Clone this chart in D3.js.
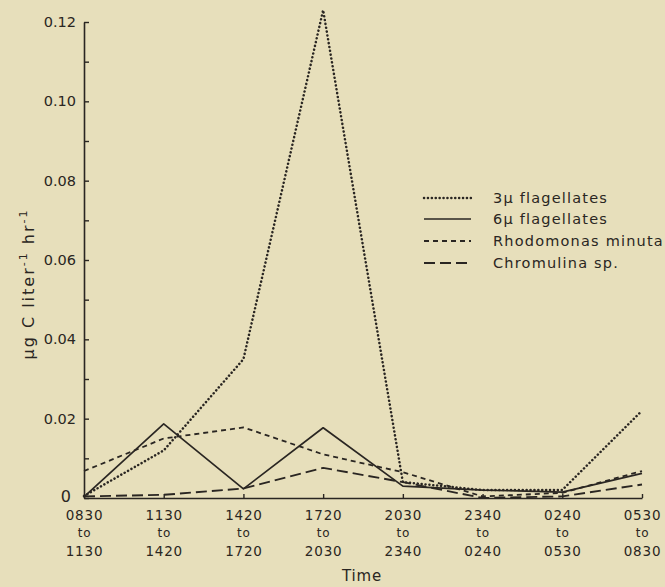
<!DOCTYPE html>
<html>
<head>
<meta charset="utf-8">
<script src="https://cdn.jsdelivr.net/npm/d3@7"></script>
<style>
  html, body { margin: 0; padding: 0; background: #e7dfbb; }
  svg { display: block; }
  text { font-family: "DejaVu Sans", sans-serif; fill: #2a2622; }
</style>
</head>
<body>
<svg id="chart" width="665" height="587"></svg>
<script>
// ---- data ----
const periodStart = ["0830","1130","1420","1720","2030","2340","0240","0530"];
const periodEnd   = ["1130","1420","1720","2030","2340","0240","0530","0830"];
const flag3  = [0.0005, 0.012, 0.035, 0.123, 0.004, 0.002, 0.002, 0.022];
const flag6  = [0.0003, 0.0187, 0.0023, 0.0177, 0.003, 0.002, 0.0015, 0.0062];
const rhodo  = [0.0068, 0.015, 0.0178, 0.011, 0.0065, 0.0004, 0.0013, 0.0068];
const chrom  = [0.0004, 0.0008, 0.0024, 0.0076, 0.004, 0.0, 0.0004, 0.0034];
const yTicks = [0, 0.02, 0.04, 0.06, 0.08, 0.10, 0.12];
const yMinor = [0.01, 0.03, 0.05, 0.07, 0.09, 0.11];
const seriesNames = ["3\u03bc flagellates", "6\u03bc flagellates", "Rhodomonas minuta", "Chromulina sp."];

const ink = "#2a2622";
const svg = d3.select("#chart");

const x = d3.scalePoint().domain(periodStart).range([84, 642]);
const y = d3.scaleLinear().domain([0, 0.12]).range([498, 22]);

const styles = [
  {dash: "0.1,3.8", width: 2.5, cap: "round"},
  {dash: null, width: 1.7, cap: "butt"},
  {dash: "5,4", width: 1.8, cap: "butt"},
  {dash: "11,5", width: 1.9, cap: "butt"}
];
const allSeries = [flag3, flag6, rhodo, chrom];

// ---- axes ----
const yAxis = d3.axisLeft(y).tickValues(yTicks)
  .tickFormat(d => d === 0 ? "" : d.toFixed(2))
  .tickSizeInner(-5).tickSizeOuter(0).tickPadding(8);
const gy = svg.append("g").attr("transform", "translate(84,0)").call(yAxis);
gy.select(".domain").attr("stroke", ink).attr("stroke-width", 1.6);
gy.selectAll(".tick line").attr("stroke", ink).attr("stroke-width", 1.4);
gy.selectAll(".tick text").attr("font-size", 14.5).attr("font-family", "DejaVu Sans").attr("fill", ink);

const yAxisMinor = d3.axisLeft(y).tickValues(yMinor).tickFormat("")
  .tickSizeInner(-5).tickSizeOuter(0);
const gym = svg.append("g").attr("transform", "translate(84,0)").call(yAxisMinor);
gym.select(".domain").remove();
gym.selectAll(".tick line").attr("stroke", ink).attr("stroke-width", 1.4);

// zero label offset low-left
svg.append("text").attr("x", 71).attr("y", y(0) + 4)
  .attr("text-anchor", "end").attr("font-size", 16).text("0");

const xAxis = d3.axisBottom(x).tickSizeInner(-4).tickSizeOuter(0).tickPadding(9)
  .tickFormat(() => "");
const gx = svg.append("g").attr("transform", `translate(0,${y(0)})`).call(xAxis);
gx.select(".domain").attr("stroke", ink).attr("stroke-width", 1.6);
gx.selectAll(".tick line").attr("stroke", ink).attr("stroke-width", 1.4);
gx.selectAll(".tick text").remove();
gx.selectAll(".tick").each(function(d, i) {
  const t = d3.select(this).append("text")
    .attr("text-anchor", "middle").attr("font-size", 13.5).attr("fill", ink)
    .attr("letter-spacing", 0.8);
  t.append("tspan").attr("x", 0).attr("y", 22).text(periodStart[i]);
  t.append("tspan").attr("x", 0).attr("y", 39).attr("font-size", 12).text("to");
  t.append("tspan").attr("x", 0).attr("y", 58).text(periodEnd[i]);
});

svg.append("text").attr("x", 362).attr("y", 581).attr("text-anchor", "middle")
  .attr("font-size", 15).attr("letter-spacing", 0.8).text("Time");

// y label
const yl = svg.append("text").attr("transform", "translate(34,284) rotate(-90)")
  .attr("text-anchor", "middle").attr("font-size", 16).attr("letter-spacing", 2);
yl.append("tspan").text("\u03bcg C liter");
yl.append("tspan").attr("dy", -7).attr("font-size", 11).text("-1");
yl.append("tspan").attr("dy", 7).text(" hr");
yl.append("tspan").attr("dy", -7).attr("font-size", 11).text("-1");

// ---- lines ----
const line = d3.line().x((d, i) => x(periodStart[i])).y(d => y(d));
allSeries.forEach((s, k) => {
  svg.append("path").datum(s)
    .attr("d", line)
    .attr("fill", "none")
    .attr("stroke", ink)
    .attr("stroke-width", styles[k].width)
    .attr("stroke-linecap", styles[k].cap)
    .attr("stroke-linejoin", "round")
    .attr("stroke-dasharray", styles[k].dash);
});

// ---- legend ----
const legY = [198, 219, 241, 263];
seriesNames.forEach((name, k) => {
  const g = svg.append("g").attr("transform", `translate(0,${legY[k]})`);
  g.append("line").attr("x1", 424).attr("x2", 471).attr("y1", 0).attr("y2", 0)
    .attr("stroke", ink).attr("stroke-width", styles[k].width)
    .attr("stroke-linecap", styles[k].cap)
    .attr("stroke-dasharray", styles[k].dash);
  g.append("text").attr("x", 493).attr("y", 5).attr("font-size", 14.5)
    .attr("letter-spacing", 1.2).text(name);
});
</script>
</body>
</html>
